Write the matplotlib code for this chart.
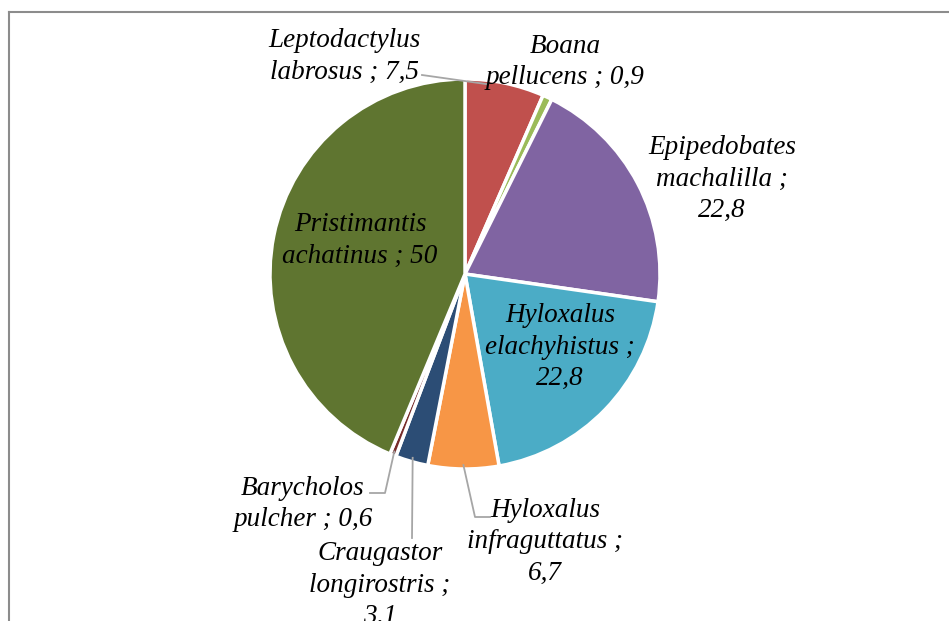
# pie chart of species share (%)
import numpy as np
import matplotlib
matplotlib.use('agg')
import matplotlib.pyplot as plt

species = ['Leptodactylus\nlabrosus ; 7,5', 'Boana\npellucens ; 0,9',
           'Epipedobates\nmachalilla ;\n22,8', 'Hyloxalus\nelachyhistus ;\n22,8',
           'Hyloxalus\ninfraguttatus ;\n6,7', 'Craugastor\nlongirostris ;\n3,1',
           'Barycholos\npulcher ; 0,6', 'Pristimantis\nachatinus ; 50']
values = [7.5, 0.9, 22.8, 22.8, 6.7, 3.1, 0.6, 50]
colors = ['#C0504D', '#9BBB59', '#8064A2', '#4BACC6', '#F79646',
          '#2C4D75', '#772C2A', '#5F7530']

W, H = 949, 621
fig = plt.figure(figsize=(W / 100, H / 100), dpi=100)

def px(x, y):
    # pixel (from top-left) -> figure fraction
    return x / W, 1 - y / H

# frame (only left and top edges are visible in the crop)
fig.add_artist(plt.Line2D([8.5 / W, 8.5 / W], [0, 1 - 11.5 / H], color='#8c8c8c', lw=1.5))
fig.add_artist(plt.Line2D([8.5 / W, 1], [1 - 11.5 / H, 1 - 11.5 / H], color='#8c8c8c', lw=1.5))

cx, cy, r = 465, 274, 195
ax = fig.add_axes([(cx - r) / W, (H - cy - r) / H, 2 * r / W, 2 * r / H])
wedges, _ = ax.pie(values, colors=colors, startangle=90, counterclock=False,
                   wedgeprops=dict(edgecolor='white', linewidth=2.5))
ax.set_xlim(-1, 1)
ax.set_ylim(-1, 1)
ax.axis('off')

font = dict(family='Liberation Serif', style='italic', fontsize=19.5,
            ha='center', va='center', linespacing=1.36)

label_pos = [(344, 56), (565, 62), (722, 179), (560, 347),
             (545, 542), (380, 585), (303, 504), (360, 240)]
for lab, (x, y) in zip(species, label_pos):
    fig.text(*px(x, y), lab, **font)

# leader lines: from wedge edge to elbow to label
def edge_point(w, frac=0.5, rr=1.0):
    t1, t2 = min(w.theta1, w.theta2), max(w.theta1, w.theta2)
    ang = np.deg2rad(t1 + (t2 - t1) * frac)
    return cx + r * rr * np.cos(ang), cy - r * rr * np.sin(ang)

leaders = {0: (0.72, [(422, 75)]), 4: (0.5, [(475, 517), (490, 517)]),
           5: (0.5, [(412, 538)]), 6: (0.5, [(385, 493), (370, 493)])}
for i, (frac, pts) in leaders.items():
    x0, y0 = edge_point(wedges[i], frac, 0.98)
    xs = [x0] + [p[0] for p in pts]
    ys = [y0] + [p[1] for p in pts]
    fig.add_artist(plt.Line2D([x / W for x in xs], [1 - y / H for y in ys],
                              color='#a6a6a6', lw=1.3))

plt.savefig('out.png', dpi=100)
